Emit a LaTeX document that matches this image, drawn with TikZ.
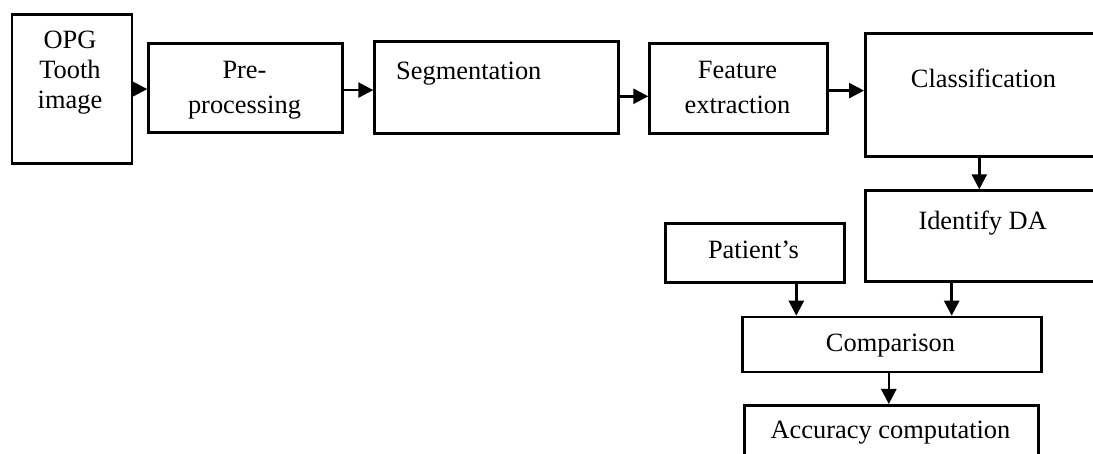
\documentclass[tikz,border=0pt]{standalone}
\usepackage{fontspec}
\setmainfont{Liberation Serif}
\usetikzlibrary{arrows.meta}
\begin{document}
\begin{tikzpicture}[x=1pt,y=-1pt,
  box/.style={draw=black,line width=2.6pt,inner sep=0pt,anchor=north west},
  txt/.style={inner sep=0pt,font=\fontsize{26.4}{30}\selectfont},
  arr/.style={line width=2.6pt,-{Triangle[length=15pt,width=15pt]}}]
\useasboundingbox (0,0) rectangle (1093,454);
\clip (0,0) rectangle (1093,454);
% boxes
\node[box,minimum width=120pt,minimum height=149pt] (opg) at (10.7,13.3) {};
\node[box,minimum width=194pt,minimum height=89pt] (pre) at (147.3,42.3) {};
\node[box,minimum width=244pt,minimum height=92pt] (seg) at (373.3,40) {};
\node[box,minimum width=178pt,minimum height=90pt] (feat) at (648.3,42.3) {};
\node[box,minimum width=300pt,minimum height=123pt] (cls) at (864,32.3) {};
\node[box,minimum width=300pt,minimum height=91pt] (ida) at (864,189.3) {};
\node[box,minimum width=179pt,minimum height=59pt] (pat) at (664,222.3) {};
\node[box,minimum width=299pt,minimum height=55pt] (cmp) at (741,315.7) {};
\node[box,minimum width=294pt,minimum height=80pt] (acc) at (743.3,404) {};
% texts
\node[txt,anchor=base] (t1) at (70,48.3) {\begin{tabular}[t]{@{}c@{}}OPG\\Tooth\\image\end{tabular}};
\node[txt,anchor=base] (t2a) at (244.5,78.3) {Pre-};
\node[txt,anchor=base] (t2b) at (244.5,113.3) {processing};
\node[txt,anchor=base west] (t3) at (396,80) {Segmentation};
\node[txt,anchor=base] (t4a) at (737.5,78.3) {Feature};
\node[txt,anchor=base] (t4b) at (737.5,113.3) {extraction};
\node[txt,anchor=base west] (t5) at (910.7,88) {Classification};
\node[txt,anchor=base west] (t6) at (918.3,230) {Identify DA};
\node[txt,anchor=base] (t7) at (753.5,258.3) {Patient’s};
\node[txt,anchor=base] (t8) at (890.5,351.7) {Comparison};
\node[txt,anchor=base] (t9) at (890.5,438.3) {Accuracy computation};
% arrows
\draw[arr] (opg.east) -- (opg.east -| pre.west);
\draw[arr] ([yshift=-2pt]pre.east) -- ([yshift=-2pt]pre.east -| seg.west);
\draw[arr] ([yshift=-9pt]seg.east) -- ([yshift=-9pt]seg.east -| feat.west);
\draw[arr] ([yshift=-2pt]feat.east) -- ([yshift=-2pt]feat.east -| cls.west);
\draw[arr] ([xshift=115.3pt]cls.south west) -- ([xshift=115.3pt]cls.south west |- ida.north);
\draw[arr] ([xshift=41.5pt]pat.south) -- ([xshift=41.5pt]pat.south |- cmp.north);
\draw[arr] ([xshift=87.7pt]ida.south west) -- ([xshift=87.7pt]ida.south west |- cmp.north);
\draw[arr] ([xshift=-3pt]cmp.south) -- ([xshift=-3pt]cmp.south |- acc.north);
\end{tikzpicture}
\end{document}
